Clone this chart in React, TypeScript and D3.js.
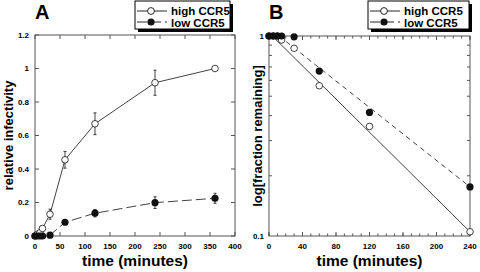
import React from "react";
import * as d3 from "d3";

// ---------- Panel A data ----------
const timesA = [0, 5, 10, 15, 30, 60, 120, 240, 360];
const highA = [0, 0.01, 0.02, 0.045, 0.13, 0.455, 0.67, 0.915, 1.0];
const highErrA = [0, 0, 0, 0.01, 0.03, 0.05, 0.065, 0.075, 0];
const lowA = [0, 0, 0, 0, 0.005, 0.082, 0.136, 0.199, 0.225];
const lowErrA = [0, 0, 0, 0, 0, 0.01, 0.022, 0.035, 0.03];
const xTicksA = [0, 50, 100, 150, 200, 250, 300, 350, 400];
const yTicksA = [0, 0.2, 0.4, 0.6, 0.8, 1, 1.2];

// ---------- Panel B data ----------
const timesB = [0, 5, 10, 15, 30, 60, 120, 240];
const highB = [1, 1, 1, 0.955, 0.868, 0.564, 0.353, 0.105];
const lowB = [1, 1, 1, 1, 0.99, 0.668, 0.415, 0.176];
const fitHighT = [4, 240];
const fitHighV = [1, 0.105];
const fitLowT = [12, 240];
const fitLowV = [1, 0.176];
const xTicksB = [0, 40, 80, 120, 160, 200, 240];
const xMinorB = d3.range(0, 241, 10);
const yTicksB = [0.1, 1];
const yMinorB = [0.2, 0.3, 0.4, 0.5, 0.6, 0.7, 0.8, 0.9];

const FONT = "'Liberation Sans', Arial, Helvetica, sans-serif";
const AX = "#555";
const INK = "#111";

type Pt = { t: number; v: number };

function Legend({ x, y, w }: { x: number; y: number; w: number }) {
  const h = 28;
  return (
    <g>
      <rect x={x + 3} y={y + 3} width={w} height={h} fill="#000" />
      <rect x={x} y={y} width={w} height={h} fill="#fff" stroke="#000" strokeWidth={1} />
      <line x1={x + 2} x2={x + 32} y1={y + 10} y2={y + 10} stroke={INK} strokeWidth={0.9} />
      <circle cx={x + 16} cy={y + 10} r={3.4} fill="#fff" stroke={INK} strokeWidth={0.9} />
      <text x={x + 36} y={y + 14} fontFamily={FONT} fontWeight="bold" fontSize={11.5} fill="#000">
        high CCR5
      </text>
      <line x1={x + 2} x2={x + 32} y1={y + 21} y2={y + 21} stroke={INK} strokeWidth={0.9} strokeDasharray="10,4" />
      <circle cx={x + 16} cy={y + 21} r={3.6} fill={INK} />
      <text x={x + 36} y={y + 25.5} fontFamily={FONT} fontWeight="bold" fontSize={11.5} fill="#000">
        low CCR5
      </text>
    </g>
  );
}

function PanelA() {
  const x = d3.scaleLinear().domain([0, 400]).range([35, 235]);
  const y = d3.scaleLinear().domain([0, 1.2]).range([236, 35]);
  const [x0, x1] = x.range();
  const [y0, y1] = y.range();
  const high: Pt[] = timesA.map((t, i) => ({ t, v: highA[i] }));
  const low: Pt[] = timesA.map((t, i) => ({ t, v: lowA[i] }));
  const line = d3.line<Pt>().x((d) => x(d.t)).y((d) => y(d.v));
  const tl = 4;
  return (
    <g>
      <rect x={x0} y={y1} width={x1 - x0} height={y0 - y1} fill="none" stroke={AX} strokeWidth={1} />
      {xTicksA.map((t) => (
        <g key={"xa" + t}>
          <line x1={x(t)} x2={x(t)} y1={y0} y2={y0 - tl} stroke={AX} />
          <line x1={x(t)} x2={x(t)} y1={y1} y2={y1 + tl} stroke={AX} />
          <text x={x(t)} y={248.5} textAnchor="middle" fontFamily={FONT} fontWeight="bold" fontSize={8}>
            {t}
          </text>
        </g>
      ))}
      {yTicksA.map((v) => (
        <g key={"ya" + v}>
          <line x1={x0} x2={x0 + tl} y1={y(v)} y2={y(v)} stroke={AX} />
          <line x1={x1} x2={x1 - tl} y1={y(v)} y2={y(v)} stroke={AX} />
          <text x={29} y={y(v) + 2.8} textAnchor="end" fontFamily={FONT} fontWeight="bold" fontSize={8}>
            {d3.format("~g")(v)}
          </text>
        </g>
      ))}
      <path d={line(high) || ""} fill="none" stroke={INK} strokeWidth={0.8} />
      <path d={line(low) || ""} fill="none" stroke={INK} strokeWidth={0.8} strokeDasharray="10,4" />
      {high.map((d, i) =>
        highErrA[i] > 0 ? (
          <g key={"he" + i}>
            <line x1={x(d.t)} x2={x(d.t)} y1={y(d.v - highErrA[i])} y2={y(d.v + highErrA[i])} stroke={INK} strokeWidth={0.8} />
            <line x1={x(d.t) - 1.5} x2={x(d.t) + 1.5} y1={y(d.v + highErrA[i])} y2={y(d.v + highErrA[i])} stroke={INK} strokeWidth={0.8} />
            <line x1={x(d.t) - 1.5} x2={x(d.t) + 1.5} y1={y(d.v - highErrA[i])} y2={y(d.v - highErrA[i])} stroke={INK} strokeWidth={0.8} />
          </g>
        ) : null
      )}
      {low.map((d, i) =>
        lowErrA[i] > 0 ? (
          <g key={"le" + i}>
            <line x1={x(d.t)} x2={x(d.t)} y1={y(d.v - lowErrA[i])} y2={y(d.v + lowErrA[i])} stroke={INK} strokeWidth={0.8} />
            <line x1={x(d.t) - 1.5} x2={x(d.t) + 1.5} y1={y(d.v + lowErrA[i])} y2={y(d.v + lowErrA[i])} stroke={INK} strokeWidth={0.8} />
            <line x1={x(d.t) - 1.5} x2={x(d.t) + 1.5} y1={y(d.v - lowErrA[i])} y2={y(d.v - lowErrA[i])} stroke={INK} strokeWidth={0.8} />
          </g>
        ) : null
      )}
      {high.map((d, i) => (
        <circle key={"hc" + i} cx={x(d.t)} cy={y(d.v)} r={3.3} fill="#fff" stroke={INK} strokeWidth={0.8} />
      ))}
      {low.map((d, i) => (
        <circle key={"lc" + i} cx={x(d.t)} cy={y(d.v)} r={3.6} fill={INK} />
      ))}
      <text x={35} y={18.5} fontFamily={FONT} fontWeight="bold" fontSize={20}>
        A
      </text>
      <text x={(x0 + x1) / 2} y={266} textAnchor="middle" fontFamily={FONT} fontWeight="bold" fontSize={15.5}>
        time (minutes)
      </text>
      <text
        transform={`translate(12.5,${(y0 + y1) / 2}) rotate(-90)`}
        textAnchor="middle"
        fontFamily={FONT}
        fontWeight="bold"
        fontSize={13}
      >
        relative infectivity
      </text>
      <Legend x={135} y={1} w={95} />
    </g>
  );
}

function PanelB() {
  const x = d3.scaleLinear().domain([0, 240]).range([269, 470]);
  const y = d3.scaleLog().domain([0.1, 1]).range([236, 36]);
  const [x0, x1] = x.range();
  const [y0, y1] = y.range();
  const high: Pt[] = timesB.map((t, i) => ({ t, v: highB[i] }));
  const low: Pt[] = timesB.map((t, i) => ({ t, v: lowB[i] }));
  const fitH: Pt[] = fitHighT.map((t, i) => ({ t, v: fitHighV[i] }));
  const fitL: Pt[] = fitLowT.map((t, i) => ({ t, v: fitLowV[i] }));
  const line = d3.line<Pt>().x((d) => x(d.t)).y((d) => y(d.v));
  return (
    <g>
      <rect x={x0} y={y1} width={x1 - x0} height={y0 - y1} fill="none" stroke={AX} strokeWidth={1} />
      {xMinorB.map((t) => (
        <g key={"xm" + t}>
          <line x1={x(t)} x2={x(t)} y1={y0} y2={y0 - 2.5} stroke={AX} />
          <line x1={x(t)} x2={x(t)} y1={y1} y2={y1 + 2.5} stroke={AX} />
        </g>
      ))}
      {xTicksB.map((t) => (
        <g key={"xb" + t}>
          <line x1={x(t)} x2={x(t)} y1={y0} y2={y0 - 4} stroke={AX} />
          <line x1={x(t)} x2={x(t)} y1={y1} y2={y1 + 4} stroke={AX} />
          <text x={x(t)} y={248.5} textAnchor="middle" fontFamily={FONT} fontWeight="bold" fontSize={8}>
            {t}
          </text>
        </g>
      ))}
      {yMinorB.map((v) => (
        <g key={"ym" + v}>
          <line x1={x0} x2={x0 + 3} y1={y(v)} y2={y(v)} stroke={AX} />
          <line x1={x1} x2={x1 - 3} y1={y(v)} y2={y(v)} stroke={AX} />
        </g>
      ))}
      {yTicksB.map((v) => (
        <text key={"yb" + v} x={264} y={y(v) + 2.8} textAnchor="end" fontFamily={FONT} fontWeight="bold" fontSize={8}>
          {d3.format("~g")(v)}
        </text>
      ))}
      <path d={line(fitH) || ""} fill="none" stroke={INK} strokeWidth={0.8} />
      <path d={line(fitL) || ""} fill="none" stroke={INK} strokeWidth={0.8} strokeDasharray="5,4" />
      {high.map((d, i) => (
        <circle key={"hb" + i} cx={x(d.t)} cy={y(d.v)} r={3.3} fill="#fff" stroke={INK} strokeWidth={0.8} />
      ))}
      {low.map((d, i) => (
        <circle key={"lb" + i} cx={x(d.t)} cy={y(d.v)} r={3.6} fill={INK} />
      ))}
      <text x={269} y={18.5} fontFamily={FONT} fontWeight="bold" fontSize={20}>
        B
      </text>
      <text x={(x0 + x1) / 2} y={266} textAnchor="middle" fontFamily={FONT} fontWeight="bold" fontSize={15.5}>
        time (minutes)
      </text>
      <text
        transform={`translate(262,${(y0 + y1) / 2}) rotate(-90)`}
        textAnchor="middle"
        fontFamily={FONT}
        fontWeight="bold"
        fontSize={13}
      >
        log[fraction remaining]
      </text>
      <Legend x={368} y={1} w={101} />
    </g>
  );
}

export default function App() {
  return (
    <svg
      width={480}
      height={272}
      viewBox="0 0 480 272"
      style={{ position: "absolute", left: 0, top: 0, background: "#fff" }}
    >
      <rect width={480} height={272} fill="#fff" />
      <PanelA />
      <PanelB />
    </svg>
  );
}
